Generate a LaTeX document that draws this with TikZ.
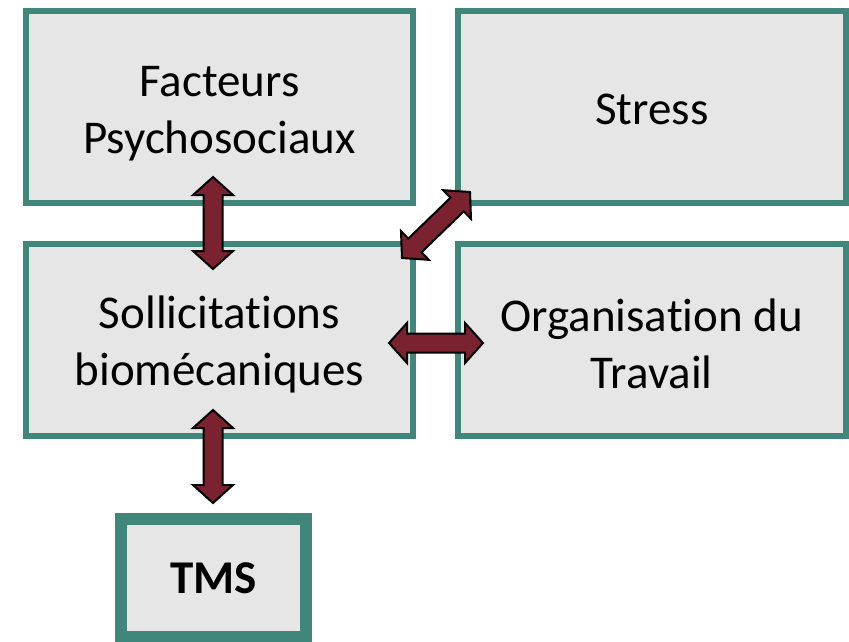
\documentclass[tikz,border=0pt]{standalone}
\usepackage{fontspec}
\setmainfont[Ligatures={NoCommon,NoRare,NoContextual}]{Carlito}
\usetikzlibrary{calc}
\definecolor{teal1}{RGB}{65,134,122}
\definecolor{boxgray}{RGB}{230,230,230}
\definecolor{arrred}{RGB}{122,34,48}
\tikzset{
  box/.style={draw=teal1, fill=boxgray, line width=6pt, inner sep=0pt, align=center,
    font=\fontsize{47}{57}\selectfont},
  tmsbox/.style={box, line width=12pt, font=\fontsize{47}{57}\selectfont\bfseries},
  lbl/.style={font=\fontsize{47}{57}\selectfont, align=center, inner sep=0pt},
  arr/.style={draw=black, fill=arrred, line width=2pt, line join=miter}
}
\newcommand{\dblarrow}[2]{%
  \coordinate (h1) at ($(#1)!18pt!(#2)$);
  \coordinate (h2) at ($(#2)!18pt!(#1)$);
  \draw[arr] (#1) -- ($(h1)!20pt!90:(#2)$) -- ($(h1)!9.5pt!90:(#2)$)
    -- ($(h2)!9.5pt!-90:(#1)$) -- ($(h2)!20pt!-90:(#1)$) -- (#2)
    -- ($(h2)!20pt!90:(#1)$) -- ($(h2)!9.5pt!90:(#1)$)
    -- ($(h1)!9.5pt!-90:(#2)$) -- ($(h1)!20pt!-90:(#2)$) -- cycle;}
\begin{document}
\begin{tikzpicture}[x=1pt,y=-1pt]
\useasboundingbox (0,0) rectangle (849,641);
\node[box, minimum width=387pt, minimum height=192pt] (fp) at (219.5,107) {};
\node[box, minimum width=387.5pt, minimum height=192pt] (st) at (651.75,107) {};
\node[box, minimum width=387pt, minimum height=192pt] (sb) at (219.5,340) {};
\node[box, minimum width=387.5pt, minimum height=192pt] (ot) at (651.75,340) {};
\node[tmsbox, minimum width=185pt, minimum height=118pt] (tms) at (213.5,578) {TMS};
\node[lbl] (fpt) at (219.5,114) {Facteurs\\Psychosociaux};
\node[lbl] (stt) at (651.75,109) {Stress};
\node[lbl] (sbt) at (219.5,344) {Sollicitations\\biomécaniques};
\node[lbl] (ott) at (651.75,344) {Organisation du\\Travail};
% arrow tips
\coordinate (a1) at (213,177); \coordinate (a2) at (213,269);
\coordinate (b1) at (213,410); \coordinate (b2) at (213,503);
\coordinate (c1) at (389,343); \coordinate (c2) at (483,343);
\coordinate (d1) at (402,258); \coordinate (d2) at (470,192);
\dblarrow{a1}{a2}
\dblarrow{b1}{b2}
\dblarrow{c1}{c2}
\dblarrow{d1}{d2}
\end{tikzpicture}
\end{document}
